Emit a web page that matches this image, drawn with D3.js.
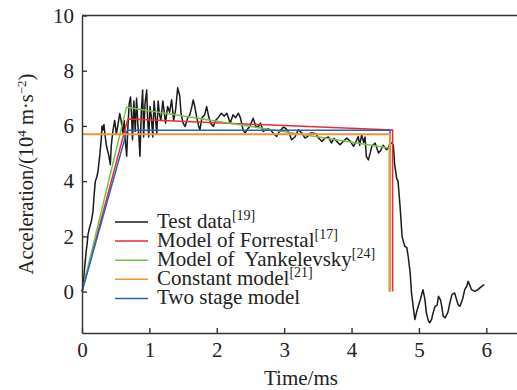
<!DOCTYPE html>
<html>
<head>
<meta charset="utf-8">
<script src="https://cdn.jsdelivr.net/npm/d3@7"></script>
<style>
  body { margin: 0; background: #fff; }
  svg text { font-family: "Liberation Serif", "Times New Roman", serif; fill: #222; }
</style>
</head>
<body>
<svg id="chart" width="517" height="390"></svg>
<script>
// test data [t (ms), a (10^4 m/s^2)]
const testData = [
  [0, 0], [0.015, 0.15], [0.04, 0.9], [0.064, 1.5], [0.075, 1.7], [0.089, 2.06], [0.11, 2.3],
  [0.138, 2.54], [0.163, 2.9], [0.18, 3.5], [0.198, 4.0], [0.22, 4.15], [0.237, 4.35],
  [0.262, 4.9], [0.287, 5.55], [0.297, 6.0], [0.31, 5.85], [0.326, 6.05], [0.345, 5.6],
  [0.361, 5.3], [0.38, 5.1], [0.396, 4.95], [0.42, 4.6], [0.435, 5.3], [0.46, 5.85],
  [0.485, 6.2], [0.51, 5.7], [0.534, 6.05], [0.56, 6.45], [0.584, 6.15], [0.608, 5.7],
  [0.625, 6.2], [0.645, 5.4], [0.663, 4.9], [0.68, 5.9], [0.7, 6.8], [0.72, 7.05],
  [0.735, 6.4], [0.75, 5.5], [0.77, 6.9], [0.79, 5.8], [0.81, 7.0], [0.83, 6.0],
  [0.845, 5.6], [0.86, 4.9], [0.88, 6.5], [0.9, 7.3], [0.915, 5.6], [0.935, 6.8],
  [0.96, 7.3], [0.975, 6.2], [0.99, 5.6], [1.01, 6.7], [1.03, 6.3], [1.05, 5.6],
  [1.07, 6.9], [1.09, 6.3], [1.11, 5.7], [1.13, 6.9], [1.15, 6.4], [1.17, 6.2],
  [1.2, 6.9], [1.22, 6.5], [1.24, 6.1], [1.27, 6.7], [1.3, 6.5], [1.33, 6.95],
  [1.36, 6.2], [1.39, 6.6], [1.42, 7.38], [1.45, 7.1], [1.47, 6.45], [1.5, 6.1],
  [1.53, 5.98], [1.57, 6.3], [1.6, 6.4], [1.63, 6.7], [1.65, 6.94], [1.67, 6.75],
  [1.7, 6.34], [1.73, 6.0], [1.75, 5.86], [1.78, 6.3], [1.82, 6.4], [1.85, 6.7],
  [1.88, 6.34], [1.91, 6.1], [1.95, 5.98], [1.98, 6.2], [2.02, 6.3], [2.07, 6.46],
  [2.11, 6.35], [2.15, 6.46], [2.2, 6.1], [2.24, 6.4], [2.28, 6.3], [2.32, 6.46],
  [2.35, 6.3], [2.39, 5.86], [2.42, 5.74], [2.46, 5.9], [2.49, 5.98], [2.54, 6.28],
  [2.58, 5.98], [2.62, 5.98], [2.65, 6.1], [2.69, 5.8], [2.72, 5.85], [2.76, 5.9],
  [2.8, 5.85], [2.85, 5.7], [2.89, 5.62], [2.93, 5.8], [2.99, 5.96], [3.03, 5.9],
  [3.07, 5.75], [3.11, 5.5], [3.16, 5.6], [3.21, 5.86], [3.26, 5.75], [3.31, 5.56],
  [3.35, 5.62], [3.39, 5.74], [3.43, 5.74], [3.47, 5.72], [3.51, 5.56], [3.56, 5.44],
  [3.61, 5.56], [3.66, 5.6], [3.7, 5.38], [3.74, 5.55], [3.78, 5.44], [3.83, 5.32],
  [3.88, 5.45], [3.93, 5.56], [3.98, 5.45], [4.03, 5.26], [4.07, 5.45], [4.1, 5.62],
  [4.12, 5.3], [4.15, 5.68], [4.18, 5.4], [4.2, 5.6], [4.22, 4.89], [4.25, 4.77],
  [4.28, 5.05], [4.3, 5.26], [4.35, 5.38], [4.4, 5.02], [4.43, 5.1], [4.47, 5.3],
  [4.52, 5.14], [4.55, 5.2], [4.57, 5.38], [4.6, 5.38], [4.62, 5.3], [4.64, 4.6],
  [4.67, 4.1], [4.69, 4.0], [4.72, 3.09], [4.75, 2.0], [4.77, 1.8], [4.79, 1.64],
  [4.82, 1.6], [4.84, 1.28], [4.87, 0.68], [4.89, -0.05], [4.92, -0.65], [4.94, -1.01],
  [4.97, -0.7], [4.99, -0.53], [5.02, -0.3], [5.06, 0.07], [5.09, -0.3], [5.11, -0.77],
  [5.14, -1.05], [5.16, -1.13], [5.19, -1.0], [5.21, -0.77], [5.24, -0.53], [5.27, -0.5],
  [5.29, -0.17], [5.32, -0.3], [5.34, -0.55], [5.36, -0.89], [5.39, -0.95], [5.43, -0.75],
  [5.46, -0.4], [5.49, -0.11], [5.53, -0.05], [5.56, -0.3], [5.58, -0.47], [5.61, -0.53],
  [5.65, -0.25], [5.68, 0.07], [5.71, 0.2], [5.73, 0.37], [5.76, 0.2], [5.78, 0.07],
  [5.83, 0.01], [5.88, 0.08], [5.93, 0.19], [5.97, 0.25]
]

// model curves
const forrestal = [[0, 0], [0.68, 6.25], [4.61, 5.85], [4.61, 0]]
const yankelevsky = [[0, 0], [0.66, 6.68], [4.56, 5.2], [4.56, 0]]
const constantModel = [[0, 5.7], [4.57, 5.7], [4.57, 0]]
const twoStage = [[0, 0], [0.67, 5.84], [4.57, 5.84], [4.57, 0]]

const legendNames = ['Test data', 'Model of Forrestal', 'Model of\u00a0 Yankelevsky', 'Constant model', 'Two stage model']
const legendRefs = ['19', '17', '24', '21', '']
const colors = ['#1a1a1a', '#ee2b2f', '#72c04c', '#f39237', '#2560c0']

const xTicks = [0, 1, 2, 3, 4, 5, 6]
const yTicks = [0, 2, 4, 6, 8, 10]

const serif = 'Liberation Serif'
const svg = d3.select('#chart')
const x = d3.scaleLinear().domain([0, 6.5]).range([82, 520])
const y = d3.scaleLinear().domain([-1.5, 10]).range([333, 15.5])

const line = d3.line().x(d => x(d[0])).y(d => y(d[1]))

// 曲线
const series = [testData, forrestal, yankelevsky, twoStage, constantModel]
const seriesColors = [colors[0], colors[1], colors[2], colors[4], colors[3]]
svg.append('g')
  .selectAll('path')
  .data(series)
  .enter()
  .append('path')
  .attr('d', line)
  .attr('fill', 'none')
  .attr('stroke', (d, i) => seriesColors[i])
  .attr('stroke-width', (d, i) => (i === 4 ? 2 : 1.5))
  .attr('stroke-linejoin', 'round')

// 坐标轴
const xAxis = svg.append('g')
  .attr('transform', `translate(0,${y(-1.5)})`)
  .call(d3.axisBottom(x).tickValues(xTicks).tickFormat(d3.format('d'))
    .tickSizeInner(-5).tickSizeOuter(0).tickPadding(9))
const yAxis = svg.append('g')
  .attr('transform', `translate(${x(0)},0)`)
  .call(d3.axisLeft(y).tickValues(yTicks).tickFormat(d3.format('d'))
    .tickSizeInner(-5).tickSizeOuter(0).tickPadding(8))

;[xAxis, yAxis].forEach(g => {
  g.attr('font-family', serif).attr('font-size', 21)
  g.select('.domain').attr('stroke', '#333').attr('stroke-width', 1.4)
  g.selectAll('.tick line').attr('stroke', '#333').attr('stroke-width', 1.4)
  g.selectAll('.tick text')
    .attr('font-family', serif)
    .attr('fill', '#222')
})

// top border
svg.append('line')
  .attr('x1', x(0)).attr('x2', x(6.5))
  .attr('y1', y(10)).attr('y2', y(10))
  .attr('stroke', '#333')
  .attr('stroke-width', 1.4)

// axis titles
svg.append('text')
  .attr('x', 301)
  .attr('y', 385)
  .attr('text-anchor', 'middle')
  .attr('font-size', 21)
  .text('Time/ms')

const yTitle = svg.append('text')
  .attr('transform', 'translate(33,174) rotate(-90)')
  .attr('text-anchor', 'middle')
  .attr('font-size', 20.5)
yTitle.append('tspan').text('Acceleration/(10')
yTitle.append('tspan').attr('font-size', 13).attr('dy', -7).text('4')
yTitle.append('tspan').attr('dy', 7).text('\u00a0m·s')
yTitle.append('tspan').attr('font-size', 13).attr('dy', -7).text('−2')
yTitle.append('tspan').attr('dy', 7).text(')')

// 图例
const legend = svg.append('g')
const rows = legend.selectAll('g')
  .data(legendNames)
  .enter()
  .append('g')
  .attr('transform', (d, i) => `translate(115,${222 + i * 19.1})`)
rows.append('line')
  .attr('x1', 0).attr('x2', 33)
  .attr('stroke', (d, i) => colors[i])
  .attr('stroke-width', 1.5)
const labels = rows.append('text')
  .attr('x', 42)
  .attr('y', 6)
  .attr('font-size', 21)
labels.append('tspan').text(d => d)
labels.append('tspan')
  .attr('font-size', 14)
  .attr('dy', -8)
  .text((d, i) => (legendRefs[i] ? `[${legendRefs[i]}]` : ''))
</script>
</body>
</html>
